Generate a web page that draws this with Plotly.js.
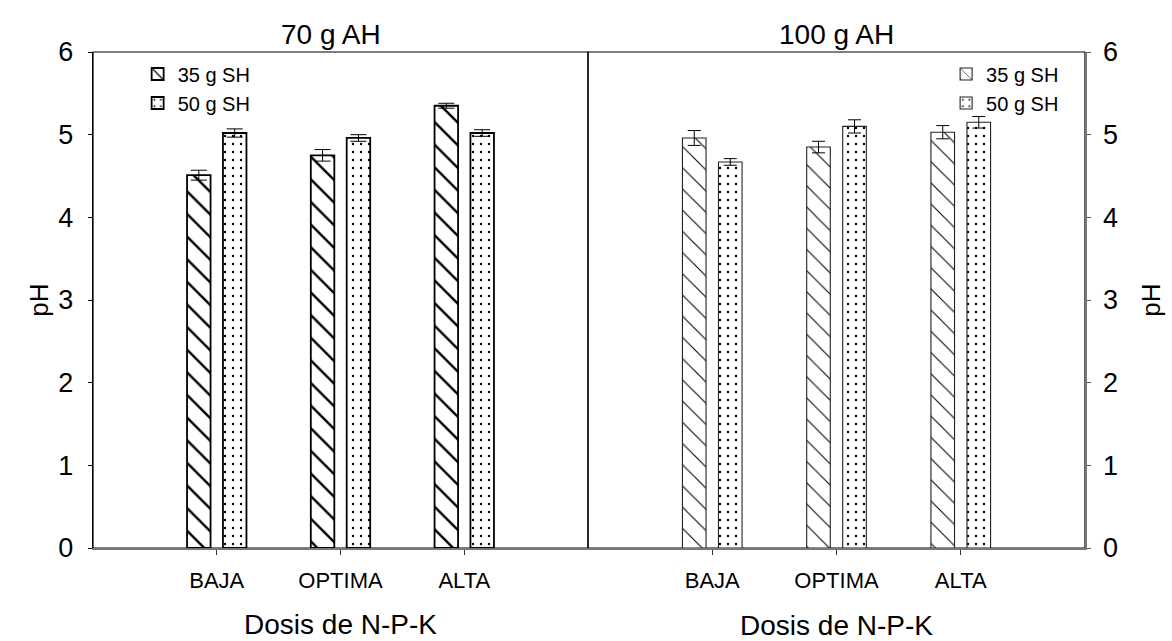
<!DOCTYPE html>
<html>
<head>
<meta charset="utf-8">
<script src="https://cdn.plot.ly/plotly-3.0.1.min.js"></script>
<style>html,body{margin:0;padding:0;background:#fff;}#chart{width:1172px;height:641px;}</style>
</head>
<body>
<div id="chart"></div>
<script>
// ---- data ----
const categories = ['BAJA', 'OPTIMA', 'ALTA'];
const seriesNames = ['35 g SH', '50 g SH'];
const panelTitles = ['70 g AH', '100 g AH'];
const xTitle = 'Dosis de N-P-K';
const yTitle = 'pH';

const ah70_sh35 = [4.51, 4.75, 5.35];
const ah70_sh35_err = [0.06, 0.07, 0.03];
const ah70_sh50 = [5.02, 4.96, 5.02];
const ah70_sh50_err = [0.05, 0.04, 0.04];

const ah100_sh35 = [4.96, 4.85, 5.03];
const ah100_sh35_err = [0.09, 0.07, 0.08];
const ah100_sh50 = [4.67, 5.10, 5.15];
const ah100_sh50_err = [0.04, 0.08, 0.07];

const yTicks = [0, 1, 2, 3, 4, 5, 6];

// ---- styles ----
const FONT = 'Liberation Sans, Arial, sans-serif';
const W = 0.19;

function bar(y, err, name, xa, ya, leg, off, pattern, lineW, lineC, capW) {
  return {
    type: 'bar', x: categories, y: y, name: name,
    xaxis: xa, yaxis: ya, legend: leg, legendgroup: leg + name,
    width: W, offset: off,
    marker: { color: 'white', line: { color: lineC, width: lineW }, pattern: pattern },
    error_y: { type: 'data', array: err, visible: true, color: '#000', thickness: 1, width: capW }
  };
}

const hatchL = { shape: '\\', size: 16, solidity: 0.15, fgcolor: '#000', fgopacity: 1, bgcolor: '#fff', fillmode: 'overlay' };
const hatchR = { shape: '\\', size: 15, solidity: 0.07, fgcolor: '#000', fgopacity: 1, bgcolor: '#fff', fillmode: 'overlay' };
const dots = { shape: '.', size: 8, solidity: 0.07, fgcolor: '#000', fgopacity: 1, bgcolor: '#fff', fillmode: 'overlay' };

const traces = [
  bar(ah70_sh35, ah70_sh35_err, seriesNames[0], 'x', 'y', 'legend', -0.24, hatchL, 1.8, '#000', 8),
  bar(ah70_sh50, ah70_sh50_err, seriesNames[1], 'x', 'y', 'legend', 0.05, dots, 1.8, '#000', 8),
  bar(ah100_sh35, ah100_sh35_err, seriesNames[0], 'x2', 'y2', 'legend2', -0.24, hatchR, 1.1, '#222', 6.5),
  bar(ah100_sh50, ah100_sh50_err, seriesNames[1], 'x2', 'y2', 'legend2', 0.05, dots, 1.1, '#222', 6.5)
];

const xCommon = {
  type: 'category', categoryorder: 'array', categoryarray: categories,
  range: [-1, 3], showline: true, linecolor: '#777', linewidth: 2,
  ticks: 'outside', ticklen: 5, tickcolor: '#333', tickwidth: 1,
  tickfont: { family: FONT, size: 22, color: '#000' }, ticklabelstandoff: 7,
  showgrid: false, zeroline: false, fixedrange: true
};
const yCommon = {
  range: [0, 6], tickvals: yTicks, ticks: 'outside', ticklen: 4, tickwidth: 1,
  tickfont: { family: FONT, size: 27, color: '#000' },
  showgrid: false, zeroline: false, showline: true, fixedrange: true
};

const layout = {
  width: 1172, height: 641,
  margin: { l: 93, r: 87, t: 52, b: 93 },
  paper_bgcolor: '#fff', plot_bgcolor: 'rgba(0,0,0,0)',
  font: { family: FONT, color: '#000' },
  showlegend: true,
  barmode: 'overlay',
  xaxis: Object.assign({}, xCommon, { domain: [0, 0.499], anchor: 'y',
    title: { text: xTitle, font: { family: FONT, size: 28, color: '#000' }, standoff: 22 } }),
  xaxis2: Object.assign({}, xCommon, { domain: [0.499, 1], anchor: 'y2',
    title: { text: xTitle, font: { family: FONT, size: 28, color: '#000' }, standoff: 25 } }),
  yaxis: Object.assign({}, yCommon, { anchor: 'x', side: 'left', linecolor: '#000', linewidth: 1.2, tickcolor: '#000', ticklabelstandoff: 9,
    title: { text: yTitle, font: { family: FONT, size: 26, color: '#000' }, standoff: 2 } }),
  yaxis2: Object.assign({}, yCommon, { anchor: 'x2', side: 'right', linecolor: '#777', linewidth: 1.5, tickcolor: '#555', ticklabelstandoff: 7,
    title: { text: yTitle, font: { family: FONT, size: 26, color: '#000' }, standoff: 25 } }),
  legend: { x: 0.045, y: 0.995, xanchor: 'left', yanchor: 'top', bgcolor: 'rgba(0,0,0,0)',
    font: { family: FONT, size: 20, color: '#000' }, tracegroupgap: 0, traceorder: 'normal' },
  legend2: { x: 0.86, y: 0.995, xanchor: 'left', yanchor: 'top', bgcolor: 'rgba(0,0,0,0)',
    font: { family: FONT, size: 20, color: '#000' }, tracegroupgap: 0, traceorder: 'normal' },
  shapes: [
    { type: 'rect', xref: 'x domain', yref: 'y domain', x0: 0, x1: 1, y0: 0, y1: 1, line: { color: '#000', width: 1.2 }, layer: 'below' },
    { type: 'rect', xref: 'x2 domain', yref: 'y2 domain', x0: 0, x1: 1, y0: 0, y1: 1, line: { color: '#000', width: 1.2 }, layer: 'below' }
  ],
  annotations: [
    { text: panelTitles[0], xref: 'x domain', yref: 'paper', x: 0.5, xshift: -10, y: 1, yanchor: 'bottom', yshift: 0, showarrow: false, font: { family: FONT, size: 28, color: '#000' } },
    { text: panelTitles[1], xref: 'x2 domain', yref: 'paper', x: 0.5, y: 1, yanchor: 'bottom', yshift: 0, showarrow: false, font: { family: FONT, size: 28, color: '#000' } }
  ]
};

Plotly.newPlot('chart', traces, layout, { displayModeBar: false, staticPlot: true });
</script>
</body>
</html>
